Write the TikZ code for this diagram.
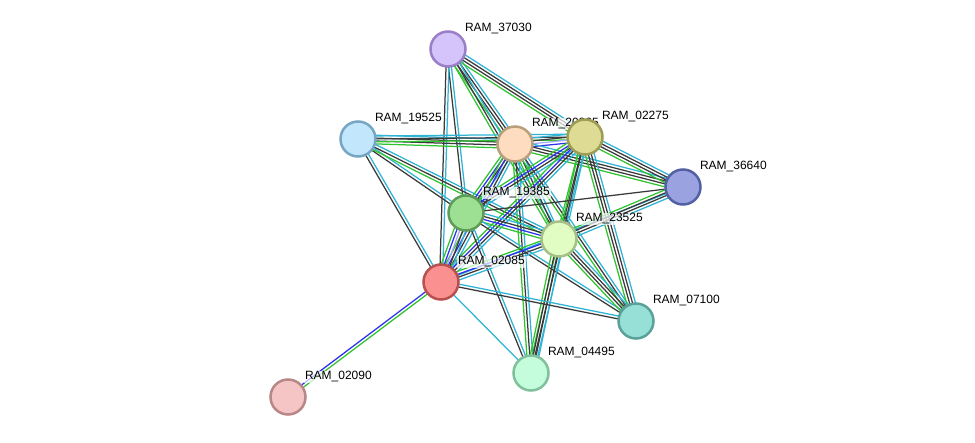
\documentclass[tikz,border=0pt]{standalone}
\usepackage{fontspec}
\setmainfont{Liberation Sans}
\usetikzlibrary{calc,backgrounds}

\definecolor{ecyan}{HTML}{2FB4D6}
\definecolor{egreen}{HTML}{2FC42F}
\definecolor{eblack}{HTML}{3A3A3A}
\definecolor{eblue}{HTML}{2F2FF0}
\definecolor{elav}{HTML}{A8A8F8}

% bundle of parallel lines between two proteins
\newcommand{\linkset}[3]{%
  \foreach \c [count=\n] in {#3} {\xdef\nlines{\n}}%
  \foreach \c [count=\i] in {#3} {%
    \pgfmathsetmacro\off{(\i-(\nlines+1)/2)*2.9}%
    \draw[link,draw=\c] ($(#1)!\off pt!90:(#2)$) -- ($(#2)!\off pt!-90:(#1)$);
  }}

\begin{document}
\begin{tikzpicture}[
    x=1pt,y=-1pt,
    prot/.style={circle,line width=2.5pt,minimum size=35pt,inner sep=0pt},
    lbl/.style={anchor=west,font=\fontsize{12}{14}\selectfont,
        fill=white,fill opacity=0.7,text opacity=1,inner sep=0.8pt},
    link/.style={line width=1.25pt}
]
\useasboundingbox (0,0) rectangle (975,443);

\node[prot,fill={rgb,255:red,212;green,196;blue,251},draw={rgb,255:red,154;green,127;blue,198}] (p37030) at (448,49) {};
\node[lbl] (l37030) at ($(p37030)+(16,-20)$) {RAM\_37030};
\node[prot,fill={rgb,255:red,194;green,230;blue,251},draw={rgb,255:red,119;green,166;blue,196}] (p19525) at (358,139) {};
\node[lbl] (l19525) at ($(p19525)+(16,-20)$) {RAM\_19525};
\node[prot,fill={rgb,255:red,253;green,220;blue,191},draw={rgb,255:red,184;green,160;blue,124}] (p20265) at (515,144) {};
\node[lbl] (l20265) at ($(p20265)+(16,-20)$) {RAM\_20265};
\node[prot,fill={rgb,255:red,221;green,219;blue,148},draw={rgb,255:red,158;green,156;blue,85}] (p02275) at (585,137) {};
\node[lbl] (l02275) at ($(p02275)+(16,-20)$) {RAM\_02275};
\node[prot,fill={rgb,255:red,154;green,163;blue,224},draw={rgb,255:red,83;green,96;blue,164}] (p36640) at (683,187) {};
\node[lbl] (l36640) at ($(p36640)+(16,-20)$) {RAM\_36640};
\node[prot,fill={rgb,255:red,157;green,223;blue,147},draw={rgb,255:red,94;green,156;blue,88}] (p19385) at (466,213) {};
\node[lbl] (l19385) at ($(p19385)+(16,-20)$) {RAM\_19385};
\node[prot,fill={rgb,255:red,226;green,253;blue,196},draw={rgb,255:red,166;green,192;blue,133}] (p23525) at (559,239) {};
\node[lbl] (l23525) at ($(p23525)+(16,-20)$) {RAM\_23525};
\node[prot,fill={rgb,255:red,251;green,144;blue,144},draw={rgb,255:red,184;green,80;blue,80}] (p02085) at (441,282) {};
\node[lbl] (l02085) at ($(p02085)+(16,-20)$) {RAM\_02085};
\node[prot,fill={rgb,255:red,151;green,224;blue,215},draw={rgb,255:red,90;green,161;blue,154}] (p07100) at (636,321) {};
\node[lbl] (l07100) at ($(p07100)+(16,-20)$) {RAM\_07100};
\node[prot,fill={rgb,255:red,195;green,253;blue,219},draw={rgb,255:red,128;green,192;blue,156}] (p04495) at (531,373) {};
\node[lbl] (l04495) at ($(p04495)+(16,-20)$) {RAM\_04495};
\node[prot,fill={rgb,255:red,245;green,197;blue,197},draw={rgb,255:red,184;green,136;blue,136}] (p02090) at (288,397) {};
\node[lbl] (l02090) at ($(p02090)+(16,-20)$) {RAM\_02090};

\begin{scope}[on background layer]
\fill[white] (0,0) rectangle (975,443);
\linkset{p37030}{p20265}{egreen,eblack,eblack,ecyan}
\linkset{p37030}{p02275}{egreen,eblack,eblack,ecyan}
\linkset{p37030}{p23525}{egreen,eblack,ecyan}
\linkset{p37030}{p19385}{eblack,ecyan}
\linkset{p37030}{p02085}{eblack,ecyan}
\linkset{p19525}{p20265}{egreen,eblack,eblack,ecyan}
\linkset{p19525}{p02275}{egreen,eblack,ecyan}
\linkset{p19525}{p19385}{eblack,ecyan}
\linkset{p19525}{p23525}{egreen,eblack,ecyan}
\linkset{p19525}{p02085}{eblack,ecyan}
\linkset{p20265}{p02275}{eblue,elav,eblack,ecyan}
\linkset{p20265}{p36640}{egreen,eblack,eblack,ecyan}
\linkset{p20265}{p19385}{egreen,eblue,eblack,ecyan}
\linkset{p20265}{p23525}{egreen,eblack,ecyan}
\linkset{p20265}{p02085}{egreen,eblue,eblack,ecyan}
\linkset{p20265}{p07100}{egreen,eblack,ecyan}
\linkset{p20265}{p04495}{egreen,eblack,ecyan}
\linkset{p02275}{p36640}{egreen,eblack,eblack,ecyan}
\linkset{p02275}{p19385}{egreen,eblue,eblack,ecyan}
\linkset{p02275}{p23525}{egreen,eblack,ecyan}
\linkset{p02275}{p02085}{egreen,eblue,eblack,ecyan}
\linkset{p02275}{p07100}{egreen,eblack,eblack,ecyan}
\linkset{p02275}{p04495}{egreen,eblack,ecyan}
\linkset{p36640}{p19385}{eblack}
\linkset{p36640}{p02085}{ecyan}
\linkset{p36640}{p23525}{egreen,eblack,eblack,ecyan}
\linkset{p19385}{p23525}{egreen,eblue,eblack,ecyan}
\linkset{p19385}{p02085}{egreen,eblue,elav,eblack,ecyan}
\linkset{p19385}{p07100}{eblack,ecyan}
\linkset{p19385}{p04495}{eblack,ecyan}
\linkset{p23525}{p02085}{egreen,eblue,eblack,ecyan}
\linkset{p23525}{p07100}{egreen,eblack,eblack,ecyan}
\linkset{p23525}{p04495}{egreen,eblack,eblack,ecyan}
\linkset{p02085}{p07100}{eblack,ecyan}
\linkset{p02085}{p04495}{ecyan}
\linkset{p02085}{p02090}{eblue,egreen}
\end{scope}
\end{tikzpicture}
\end{document}
